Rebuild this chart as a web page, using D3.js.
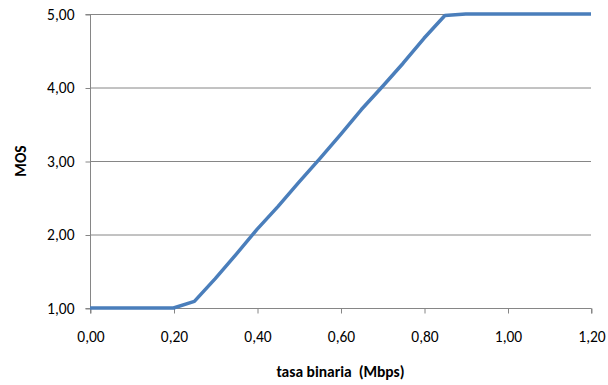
<!DOCTYPE html>
<html>
<head>
<meta charset="utf-8">
<script src="https://cdn.jsdelivr.net/npm/d3@7"></script>
<style>
  body { margin: 0; background: #fff; }
  svg text { font-family: Carlito, Lato, "Open Sans", sans-serif; fill: #000; }
</style>
</head>
<body>
<svg id="drawing_region"></svg>
<script>
// tasa binaria (Mbps) vs MOS
const rates = [0, 0.05, 0.10, 0.15, 0.20, 0.25, 0.30, 0.35, 0.40, 0.45, 0.50, 0.55, 0.60,
               0.65, 0.70, 0.75, 0.80, 0.85, 0.90, 0.95, 1.00, 1.05, 1.10, 1.15, 1.20];
const mos = [1.00, 1.00, 1.00, 1.00, 1.00, 1.09, 1.40, 1.73, 2.07, 2.38, 2.71, 3.03, 3.36,
             3.70, 4.01, 4.33, 4.67, 4.98, 5.00, 5.00, 5.00, 5.00, 5.00, 5.00, 5.00];
const xTicks = [0, 0.2, 0.4, 0.6, 0.8, 1.0, 1.2];
const yTicks = [1, 2, 3, 4, 5];

const config = {
    width: 608,
    height: 385,
    margin: {top: 14, right: 17, bottom: 77, left: 90}
};

const fmt = v => d3.format('.2f')(v).replace('.', ',');

const svg = d3.select('#drawing_region')
    .attr('width', config.width)
    .attr('height', config.height);

const inner_width = config.width - config.margin.left - config.margin.right;
const inner_height = config.height - config.margin.top - config.margin.bottom;

const chart = svg.append('g')
    .attr('transform', `translate(${config.margin.left}, ${config.margin.top})`);

const xscale = d3.scaleLinear().domain([0, 1.2]).range([0, inner_width]);
const yscale = d3.scaleLinear().domain([1, 5]).range([inner_height, 0]);

// horizontal gridlines
chart.append('g')
    .selectAll('line')
    .data(yTicks)
    .join('line')
    .attr('x1', 0)
    .attr('x2', inner_width)
    .attr('y1', d => yscale(d) + 0.5)
    .attr('y2', d => yscale(d) + 0.5)
    .attr('stroke', '#868686')
    .attr('stroke-width', 1);

const xaxis = d3.axisBottom(xscale)
    .tickValues(xTicks)
    .tickSize(5)
    .tickPadding(17)
    .tickFormat(fmt);

const yaxis = d3.axisLeft(yscale)
    .tickValues(yTicks)
    .tickSize(5)
    .tickPadding(11)
    .tickFormat(fmt);

const xg = chart.append('g')
    .attr('transform', `translate(0.5, ${inner_height + 0.5})`)
    .call(xaxis);
const yg = chart.append('g')
    .attr('transform', 'translate(0.5, 0.5)')
    .call(yaxis);

[xg, yg].forEach(g => {
    g.select('.domain').attr('stroke', '#868686');
    g.selectAll('.tick line').attr('stroke', '#868686');
    g.selectAll('.tick text')
        .style('font-size', '15.5px')
        .style('font-family', 'Carlito, Lato, "Open Sans", sans-serif')
        .attr('fill', '#000');
});
xg.select('.domain').attr('d', `M0,5V0H${inner_width}V5`);
yg.select('.domain').attr('d', `M-5,${inner_height}H0V0H-5`);

// MOS line
const line = d3.line()
    .x((d, i) => xscale(rates[i]))
    .y(d => yscale(d));

chart.append('path')
    .datum(mos)
    .attr('fill', 'none')
    .attr('stroke', '#4A7EBB')
    .attr('stroke-width', 3.5)
    .attr('stroke-linejoin', 'round')
    .attr('d', line);

// axis titles
svg.append('text')
    .attr('x', config.margin.left + inner_width / 2)
    .attr('y', 377)
    .attr('text-anchor', 'middle')
    .style('font-size', '15.5px')
    .style('font-weight', 'bold')
    .style('white-space', 'pre')
    .text('tasa binaria  (Mbps)');

svg.append('text')
    .attr('transform', 'rotate(-90)')
    .attr('x', -(config.margin.top + inner_height / 2))
    .attr('y', 26)
    .attr('text-anchor', 'middle')
    .style('font-size', '15.5px')
    .style('font-weight', 'bold')
    .text('MOS');
</script>
</body>
</html>
